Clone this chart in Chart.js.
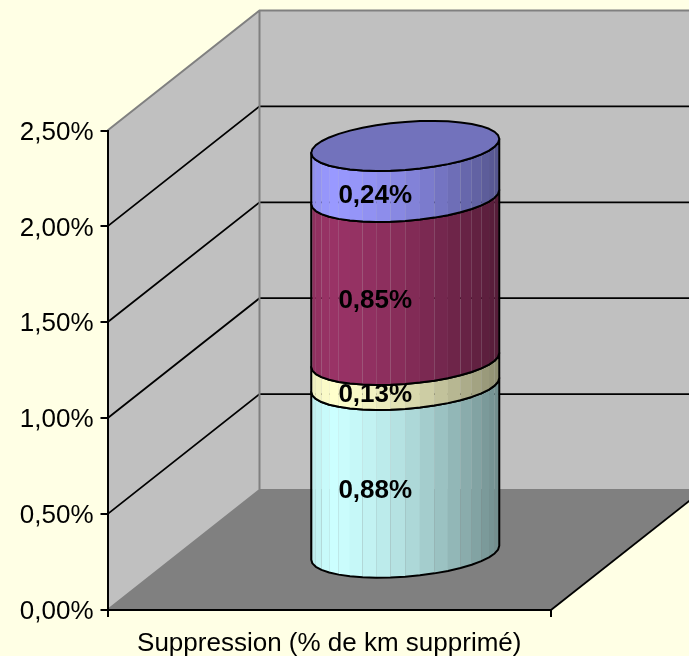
<!DOCTYPE html>
<html>
<head>
<meta charset="utf-8">
<script src="https://cdn.jsdelivr.net/npm/chart.js@4/dist/chart.umd.min.js"></script>
<style>
html, body { margin: 0; padding: 0; background: #FFFFE5; }
canvas { display: block; }
</style>
</head>
<body>
<canvas id="myChart" width="689" height="656"></canvas>
<script>
// data
var categories = ['Suppression (% de km supprimé)'];
var serie1 = [0.88];
var serie2 = [0.13];
var serie3 = [0.85];
var serie4 = [0.24];
var serieColors = ['#CCFFFF', '#FFFFCC', '#993366', '#9999FF'];
var capColor = '#7272BC';

var FONT = '"Liberation Sans", Arial, sans-serif';
var DEPTH_X = 152, DEPTH_Y = -120;   // offset of the back wall
var BAR_DY = -56.3;                  // cylinder stands in the middle of the floor
var TILT = 7, MINOR = 24;            // ellipse shape
var CAP_RISE = 5;                    // top of the cylinder sits a bit higher in the original
var STEPS = 20;

function pct(v) {
    return v.toFixed(2).replace('.', ',') + '%';
}

function shade(hex, k) {
    var r = parseInt(hex.substr(1, 2), 16), g = parseInt(hex.substr(3, 2), 16), b = parseInt(hex.substr(5, 2), 16);
    return 'rgb(' + Math.round(r * k) + ',' + Math.round(g * k) + ',' + Math.round(b * k) + ')';
}

// brightest a little right of the left edge, darker going right
function light(u) {
    if (u < 0.1) return 0.92 + 0.8 * u;
    return 1 - 0.45 * Math.pow((u - 0.1) / 0.9, 1.5);
}

function ellipsePoint(cx, cy, a, t) {
    return { x: cx + a * Math.cos(t), y: cy + MINOR * Math.sin(t) - TILT * Math.cos(t) };
}

var walls = {
    id: 'walls',
    beforeDraw: function (chart) {
        var c = chart.ctx, y = chart.scales.y, a = chart.chartArea;
        var y0 = y.getPixelForValue(0), yTop = y.getPixelForValue(y.max);
        var bx = a.left + DEPTH_X;
        c.save();
        c.fillStyle = '#FFFFE5';
        c.fillRect(0, 0, chart.width, chart.height);
        // back wall
        c.fillStyle = '#C0C0C0';
        c.fillRect(bx, yTop + DEPTH_Y, a.right - a.left, y0 - yTop);
        // side wall
        c.beginPath();
        c.moveTo(a.left, y0); c.lineTo(a.left, yTop); c.lineTo(bx, yTop + DEPTH_Y); c.lineTo(bx, y0 + DEPTH_Y);
        c.closePath();
        c.fill();
        // floor
        c.fillStyle = '#808080';
        c.beginPath();
        c.moveTo(a.left, y0); c.lineTo(a.right, y0); c.lineTo(a.right + DEPTH_X, y0 + DEPTH_Y); c.lineTo(bx, y0 + DEPTH_Y);
        c.closePath();
        c.fill();
        // grid lines on the walls
        c.strokeStyle = '#000';
        c.lineWidth = 1.8;
        y.ticks.forEach(function (t) {
            if (t.value === 0 || t.value === y.max) return;
            var p = y.getPixelForValue(t.value);
            c.beginPath();
            c.moveTo(a.left, p); c.lineTo(bx, p + DEPTH_Y);
            c.lineTo(a.right + DEPTH_X, p + DEPTH_Y);
            c.stroke();
        });
        // wall edges
        c.strokeStyle = '#808080';
        c.lineWidth = 2;
        c.beginPath();
        c.moveTo(a.left, yTop); c.lineTo(bx, yTop + DEPTH_Y); c.lineTo(a.right + DEPTH_X, yTop + DEPTH_Y);
        c.moveTo(bx, yTop + DEPTH_Y); c.lineTo(bx, y0 + DEPTH_Y); c.lineTo(a.right + DEPTH_X, y0 + DEPTH_Y);
        c.moveTo(bx, y0 + DEPTH_Y); c.lineTo(a.left, y0);
        c.stroke();
        // front right edge of the floor
        c.strokeStyle = '#000';
        c.lineWidth = 1.8;
        c.beginPath();
        c.moveTo(a.right, y0); c.lineTo(a.right + DEPTH_X, y0 + DEPTH_Y);
        c.stroke();
        c.restore();
    }
};

// the stacked bars come out as one faceted cylinder
var cylinders = {
    id: 'cylinders',
    beforeDatasetsDraw: function (chart) {
        var c = chart.ctx;
        var n = chart.data.datasets.length;
        var d, el;
        c.save();
        for (d = 0; d < n; d++) {
            el = chart.getDatasetMeta(d).data[0];
            var color = chart.data.datasets[d].backgroundColor;
            var a = el.width / 2;
            var cx = el.x + DEPTH_X / 2;
            var yb = el.base + BAR_DY;
            var yt = el.y + BAR_DY - (d === n - 1 ? CAP_RISE : 0);
            var i, t0, t1, p, q;

            // side, facet by facet, front half only
            for (i = 0; i < STEPS; i++) {
                t0 = Math.PI * (1 - i / STEPS);
                t1 = Math.PI * (1 - (i + 1) / STEPS);
                p = ellipsePoint(cx, 0, a, t0);
                q = ellipsePoint(cx, 0, a, t1);
                c.fillStyle = shade(color, light(((p.x + q.x) / 2 - (cx - a)) / (2 * a)));
                c.beginPath();
                c.moveTo(p.x, p.y + yb); c.lineTo(q.x, q.y + yb);
                c.lineTo(q.x, q.y + yt); c.lineTo(p.x, p.y + yt);
                c.closePath();
                c.fill();
            }

            // outline
            c.strokeStyle = '#000';
            c.lineWidth = 2;
            c.lineJoin = 'round';
            c.beginPath();
            for (i = 0; i <= STEPS; i++) {
                p = ellipsePoint(cx, yb, a, Math.PI * (1 - i / STEPS));
                if (i === 0) c.moveTo(p.x, p.y); else c.lineTo(p.x, p.y);
            }
            for (i = STEPS; i >= 0; i--) {
                p = ellipsePoint(cx, yt, a, Math.PI * (1 - i / STEPS));
                c.lineTo(p.x, p.y);
            }
            c.closePath();
            c.stroke();

            // cap on the last one
            if (d === n - 1) {
                c.fillStyle = capColor;
                c.beginPath();
                for (i = 0; i < STEPS * 2; i++) {
                    p = ellipsePoint(cx, yt, a, Math.PI * i / STEPS);
                    if (i === 0) c.moveTo(p.x, p.y); else c.lineTo(p.x, p.y);
                }
                c.closePath();
                c.fill();
                c.stroke();
            }
        }
        // value labels
        c.fillStyle = '#000';
        c.font = 'bold 26px ' + FONT;
        c.textAlign = 'center';
        c.textBaseline = 'middle';
        for (d = 0; d < n; d++) {
            el = chart.getDatasetMeta(d).data[0];
            c.fillText(pct(chart.data.datasets[d].data[0]), el.x + DEPTH_X / 2 - 30, (el.y + el.base) / 2 + BAR_DY + 22);
        }
        c.restore();
        return false;
    }
};

var ctx = document.getElementById('myChart').getContext('2d');
var chart = new Chart(ctx, {
    type: 'bar',
    data: {
        labels: categories,
        datasets: [
            { data: serie1, backgroundColor: serieColors[0] },
            { data: serie2, backgroundColor: serieColors[1] },
            { data: serie3, backgroundColor: serieColors[2] },
            { data: serie4, backgroundColor: serieColors[3] }
        ]
    },
    plugins: [walls, cylinders],
    options: {
        responsive: false,
        animation: false,
        barPercentage: 0.424,
        categoryPercentage: 1,
        layout: { padding: { top: 130.5, right: 138, left: 0, bottom: 0 } },
        plugins: { legend: { display: false }, title: { display: false }, tooltip: { enabled: false } },
        scales: {
            x: {
                stacked: true,
                afterFit: function (s) { s.height = 46; },
                grid: { drawOnChartArea: false, drawTicks: true, tickLength: 7, color: '#000', lineWidth: 2, offset: true },
                border: { color: '#000', width: 2 },
                ticks: { color: '#000', padding: 11, maxRotation: 0, font: { family: FONT, size: 26 } }
            },
            y: {
                stacked: true,
                min: 0,
                max: 2.5,
                afterFit: function (s) { s.width = 107.5; },
                grid: { drawOnChartArea: false, drawTicks: true, tickLength: 7, color: '#000', lineWidth: 2 },
                border: { color: '#000', width: 2 },
                ticks: {
                    stepSize: 0.5,
                    color: '#000',
                    padding: 7,
                    labelOffset: 2,
                    font: { family: FONT, size: 26 },
                    callback: function (v) { return pct(v); }
                }
            }
        }
    }
});
</script>
</body>
</html>
